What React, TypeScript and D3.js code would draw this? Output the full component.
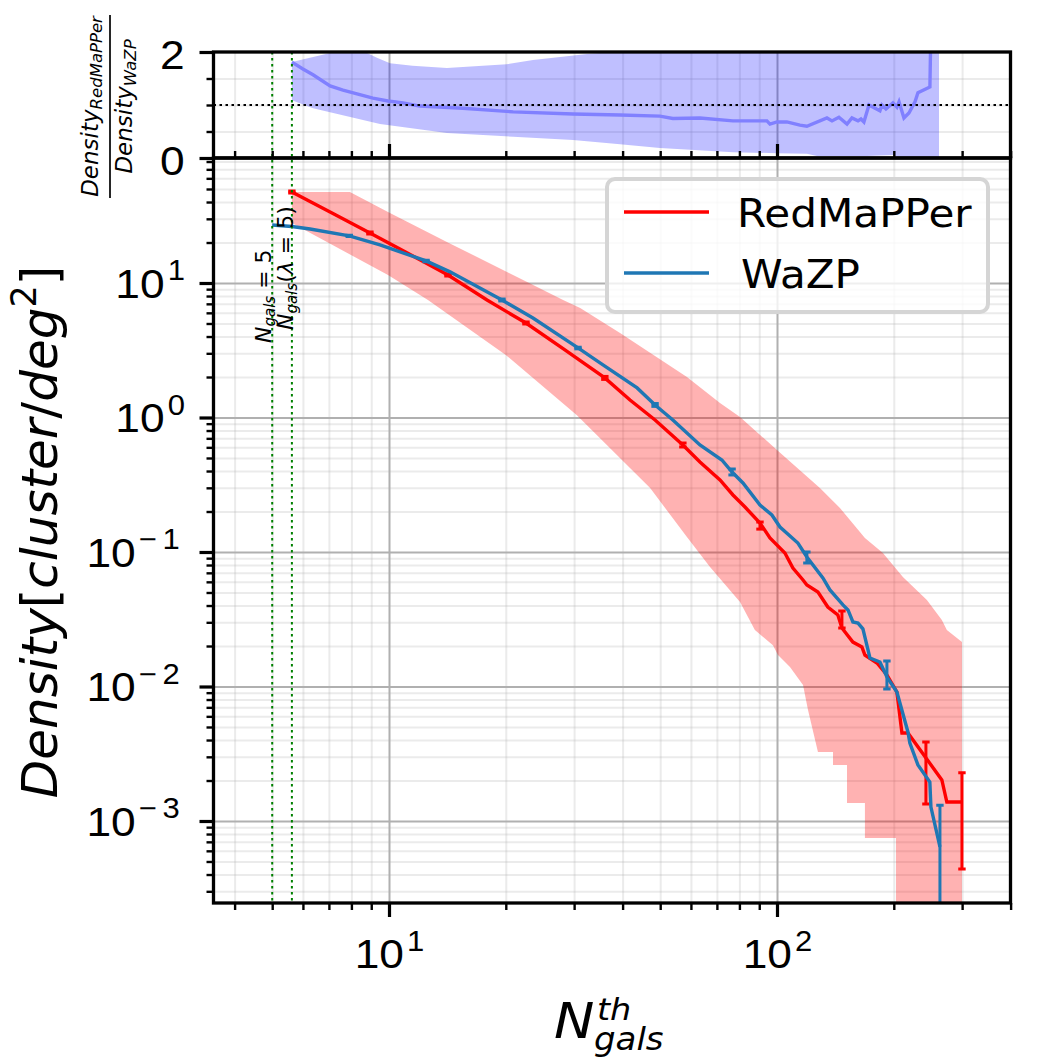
import * as d3 from "d3";
import { useRef, useEffect } from "react";

// values
const redX = [5.62, 7.05, 8.93, 10.67, 12.38, 14.19, 17.89, 22.54, 28.4, 36.0, 41.8, 48.5, 57.2, 63.3, 71.3, 77.0, 82.7, 90.4, 95.9, 104.8, 109.9, 116.7, 119.4, 127.5, 135.2, 143.5, 147, 156.9, 165.5, 168.5, 181, 192, 203.7, 209.9, 217.5, 266, 274, 299.7];
const redY = [47.5, 33.7, 23.5, 17.9, 14.2, 11.47, 7.47, 5.04, 3.18, 1.97, 1.35, 0.958, 0.625, 0.467, 0.343, 0.2654, 0.216, 0.1643, 0.127, 0.0984, 0.076, 0.0619, 0.0568, 0.0504, 0.039, 0.034, 0.0272, 0.0214, 0.0197, 0.01714, 0.01496, 0.01218, 0.0091, 0.00451, 0.00451, 0.00202, 0.001384, 0.001384];
const wazpX = [5.0, 5.62, 6.26, 7.9, 9.48, 12.46, 14.36, 19.55, 23.5, 30.7, 35.6, 43.6, 48.5, 53.9, 63.3, 72.1, 76.6, 81.7, 90.4, 97.0, 101.8, 113.2, 119.4, 131.3, 136.9, 147.9, 152.4, 156.9, 161.7, 166.5, 173.6, 184.2, 192, 203.7, 217.5, 220, 230.8, 247.7, 249.3, 263];
const wazpY = [27.0, 26.3, 25.2, 22.4, 19.2, 14.6, 12.1, 7.47, 5.49, 3.29, 2.46, 1.66, 1.24, 0.958, 0.625, 0.483, 0.393, 0.326, 0.2236, 0.1884, 0.1534, 0.1166, 0.0918, 0.0641, 0.0522, 0.0404, 0.0371, 0.0302, 0.0296, 0.0268, 0.0163, 0.0152, 0.01178, 0.0091, 0.00459, 0.0038, 0.00261, 0.00195, 0.00127, 0.000641];

const redErrX = [5.62, 8.93, 14.19, 22.54, 36.0, 57.2, 90.4, 147, 242, 299.7];
const redErrLo = [46.7, 23.1, 11.27, 4.96, 1.92, 0.604, 0.148, 0.0272, 0.00134, 0.00044];
const redErrHi = [48.3, 23.9, 11.66, 5.13, 2.02, 0.646, 0.167, 0.0364, 0.00387, 0.00228];
const wazpErrX = [7.9, 12.46, 19.55, 30.7, 48.5, 76.6, 119.4, 192, 263];
const wazpErrLo = [22.2, 14.39, 7.35, 3.24, 1.21, 0.374, 0.0829, 0.00958, 0.0001];
const wazpErrHi = [22.6, 14.76, 7.6, 3.33, 1.27, 0.414, 0.1, 0.0155, 0.00131];

const bandUpX = [5.62, 7.93, 9.94, 14.1, 22.7, 28.1, 31.1, 39.4, 58.6, 71.3, 80.3, 100, 129, 145.3, 168.5, 187.5, 211.1, 243.4, 266, 274, 299.7];
const bandUpY = [47.5, 47.5, 33.7, 20.2, 10.17, 7.47, 6.52, 4.25, 2.0, 1.28, 1.01, 0.573, 0.299, 0.2124, 0.127, 0.0984, 0.0652, 0.044, 0.0312, 0.0263, 0.0214];
const bandLoX = [5.62, 9.94, 12.6, 20.0, 30.5, 47.1, 58.6, 67.2, 80.3, 87.7, 97.6, 100.6, 108, 116.7, 120.2, 127.5, 139.4, 139.4, 151.5, 151.5, 168.5, 168.5, 202.6, 202.6, 299.7];
const bandLoY = [27.9, 11.47, 7.47, 2.92, 1.04, 0.299, 0.1293, 0.0774, 0.0425, 0.0263, 0.0203, 0.01714, 0.01396, 0.01026, 0.00669, 0.00326, 0.00326, 0.00261, 0.00261, 0.00136, 0.00136, 0.000748, 0.000748, 0.0001, 0.0001];

const ratioX = [5.62, 6.0, 6.37, 7.05, 7.61, 8.27, 9.09, 9.94, 10.87, 12.0, 15.5, 20.9, 29.8, 39.4, 49.9, 53.9, 63.3, 77.0, 94.2, 95.9, 100, 106, 114.6, 119.4, 134.5, 138.6, 144.4, 151.5, 156, 161.7, 164.6, 167.5, 172.6, 184.2, 186.4, 190.9, 199, 203.7, 206.3, 212.4, 218.8, 226.8, 230.8, 247.8, 249.3];
const ratioY = [1.81, 1.68, 1.57, 1.36, 1.28, 1.21, 1.13, 1.075, 1.04, 0.98, 0.94, 0.87, 0.83, 0.81, 0.79, 0.745, 0.755, 0.7, 0.7, 0.64, 0.68, 0.68, 0.62, 0.6, 0.755, 0.7, 0.77, 0.64, 0.755, 0.7, 0.736, 0.68, 1.0, 0.89, 1.0, 0.925, 1.04, 0.96, 1.06, 0.755, 0.85, 1.06, 1.23, 1.34, 2.5];
const ratioUpX = [5.62, 7.05, 8, 8.78, 9.31, 10.06, 11.5, 14.1, 20.1, 23.5, 32.4, 37.8, 63.3, 261.5];
const ratioUpY = [1.81, 1.98, 2.1, 1.98, 1.89, 1.79, 1.74, 1.7, 1.77, 1.85, 1.96, 2.0, 2.5, 2.5];
const ratioLoX = [5.62, 6.37, 9.48, 14.1, 20.9, 29.8, 39.4, 49.9, 77, 100, 119.4, 126.8, 170.6, 199, 206.3, 261.5];
const ratioLoY = [1.09, 0.94, 0.64, 0.47, 0.4, 0.34, 0.26, 0.19, 0.11, 0.09, 0.08, 0.04, 0.04, 0.055, 0, 0];

const xMajor = [10, 100];
const xMinor = [4, 5, 6, 7, 8, 9, 20, 30, 40, 50, 60, 70, 80, 90, 200, 300, 400];
const yMajor = [10, 1, 0.1, 0.01, 0.001];
const yMinor = [10, 1, 0.1, 0.01, 0.001, 0.0001].flatMap((d) => [2, 3, 4, 5, 6, 7, 8, 9].map((m) => m * d)).filter((d) => d < 85 && d > 0.00025);
const ratioMajor = [0, 2];
const ratioMinor = [0.5, 1, 1.5];
const vLines = [5, 5.62];

const left = 213.5, right = 1010.5, top0 = 52, mid = 158, bottom = 903;
const FONT = "DejaVu Sans";
const wide = 1.08; // the reference's text is a bit stretched sideways

const x = d3.scaleLog([10, 100], [389, 777]);
const y = d3.scaleLog([10, 1], [283, 417.5]);
const yr = d3.scaleLinear([0, 2], [mid, top0]);

const pts = (xs: number[], ys: number[]) => xs.map((d, i) => [d, ys[i]] as [number, number]);

function supLabels(sel: any, size: number) {
  sel.selectAll(".tick text").text(null).each(function (this: any, d: any) {
    const t = d3.select(this).attr("font-size", size);
    t.append("tspan").text("10");
    const e = Math.round(Math.log10(d));
    t.append("tspan")
      .attr("font-size", size * 0.7)
      .attr("dy", -size * 0.42)
      .attr("dx", 3)
      .attr("letter-spacing", e < 0 ? 5 : 0)
      .text(String(e).replace("-", "\u2212"));
  });
}

function ErrBars({ xs, lo, hi, color }: { xs: number[]; lo: number[]; hi: number[]; color: string }) {
  return (
    <g stroke={color} strokeWidth={3} fill="none">
      {xs.map((d, i) => (
        <g key={i}>
          <line x1={x(d)} x2={x(d)} y1={y(lo[i])} y2={y(hi[i])} />
          <line x1={x(d) - 3.7} x2={x(d) + 3.7} y1={y(lo[i])} y2={y(lo[i])} />
          <line x1={x(d) - 3.7} x2={x(d) + 3.7} y1={y(hi[i])} y2={y(hi[i])} />
        </g>
      ))}
    </g>
  );
}

export default function App() {
  const grid = useRef<SVGGElement>(null);
  const axes = useRef<SVGGElement>(null);

  useEffect(() => {
    const g = d3.select(grid.current);
    g.selectAll("*").remove();
    const gridLight = { color: "#b0b0b0", op: 0.25, w: 2 };
    const gridDark = { color: "#b0b0b0", op: 1, w: 2 };
    const addGrid = (axis: any, tx: number, ty: number, st: any) => {
      const a = g.append("g").attr("transform", `translate(${tx},${ty})`).call(axis);
      a.select(".domain").remove();
      a.selectAll("line").attr("stroke", st.color).attr("stroke-opacity", st.op).attr("stroke-width", st.w);
      a.selectAll("text").remove();
    };
    // x grid in both panels
    addGrid(d3.axisBottom(x).tickValues(xMinor).tickSize(-(bottom - top0)).tickFormat(() => ""), 0, bottom, gridLight);
    addGrid(d3.axisBottom(x).tickValues(xMajor).tickSize(-(bottom - mid)).tickFormat(() => ""), 0, bottom, gridDark);
    addGrid(d3.axisBottom(x).tickValues(xMajor).tickSize(-(mid - top0)).tickFormat(() => ""), 0, mid, gridDark);
    addGrid(d3.axisLeft(y).tickValues(yMinor).tickSize(-(right - left)).tickFormat(() => ""), left, 0, gridLight);
    addGrid(d3.axisLeft(y).tickValues(yMajor).tickSize(-(right - left)).tickFormat(() => ""), left, 0, gridDark);
    addGrid(d3.axisLeft(yr).tickValues(ratioMinor).tickSize(-(right - left)).tickFormat(() => ""), left, 0, gridLight);

    const ax = d3.select(axes.current);
    ax.selectAll("*").remove();
    const addAxis = (axis: any, tx: number, ty: number, w: number) => {
      const a = ax.append("g").attr("transform", `translate(${tx},${ty})`).attr("font-family", FONT).call(axis);
      a.select(".domain").remove();
      a.selectAll("line").attr("stroke", "#000").attr("stroke-width", w);
      a.selectAll("text").attr("fill", "#000");
      return a;
    };
    addAxis(d3.axisBottom(x).tickValues(xMinor).tickSize(7).tickFormat(() => ""), 0, bottom, 2.4);
    const xa = addAxis(d3.axisBottom(x).tickValues(xMajor).tickSize(14), 0, bottom, 3.2);
    supLabels(xa, 41);
    xa.selectAll(".tick text").attr("y", 65).attr("dy", 0).attr("text-anchor", "middle").attr("transform", `scale(${wide},1)`);
    addAxis(d3.axisTop(x).tickValues(xMinor).tickSize(7).tickFormat(() => ""), 0, mid, 2.4);
    addAxis(d3.axisTop(x).tickValues(xMajor).tickSize(14).tickFormat(() => ""), 0, mid, 3.2);

    addAxis(d3.axisLeft(y).tickValues(yMinor).tickSize(7).tickFormat(() => ""), left, 0, 2.4);
    const ya = addAxis(d3.axisLeft(y).tickValues(yMajor).tickSize(14), left, 0, 3.2);
    supLabels(ya, 41);
    ya.selectAll(".tick text").attr("x", -28.5 / wide).attr("dy", 14).attr("text-anchor", "end").attr("transform", `scale(${wide},1)`);

    addAxis(d3.axisLeft(yr).tickValues(ratioMinor).tickSize(7).tickFormat(() => ""), left, 0, 2.4);
    const ra = addAxis(d3.axisLeft(yr).tickValues(ratioMajor).tickSize(14).tickFormat(d3.format("d")), left, 0, 3.2);
    ra.selectAll(".tick text").attr("font-size", 41).attr("x", -29 / wide).attr("dy", 16).attr("text-anchor", "end").attr("transform", `scale(${wide},1)`);
  }, []);

  const line = d3.line<[number, number]>((d) => x(d[0]), (d) => y(d[1]));
  const rline = d3.line<[number, number]>((d) => x(d[0]), (d) => yr(d[1]));
  const band = line([...pts(bandUpX, bandUpY), ...pts(bandLoX, bandLoY).reverse()]) + "Z";
  const rband = rline([...pts(ratioUpX, ratioUpY), ...pts(ratioLoX, ratioLoY).reverse()]) + "Z";

  return (
    <svg width={1062} height={1062} style={{ position: "absolute", left: 0, top: 0 }} fontFamily={FONT}>
      <defs>
        <clipPath id="main"><rect x={left} y={mid} width={right - left} height={bottom - mid} /></clipPath>
        <clipPath id="ratio"><rect x={left} y={top0} width={right - left} height={mid - top0} /></clipPath>
      </defs>
      <g ref={grid} />

      <g clipPath="url(#ratio)">
        <path d={rband} fill="#0000ff" fillOpacity={0.25} />
        <path d={rline(pts(ratioX, ratioY))!} fill="none" stroke="#8080ff" strokeWidth={3.4} />
        <line x1={left} x2={right} y1={yr(1)} y2={yr(1)} stroke="#000" strokeWidth={2} strokeDasharray="2.5 3.5" />
      </g>
      <g clipPath="url(#main)">
        <path d={band} fill="#ff0000" fillOpacity={0.3} />
        <path d={line(pts(redX, redY))!} fill="none" stroke="#ff0000" strokeWidth={3.4} />
        <ErrBars xs={redErrX} lo={redErrLo} hi={redErrHi} color="#ff0000" />
        <path d={line(pts(wazpX, wazpY))!} fill="none" stroke="#1f77b4" strokeWidth={3.4} />
        <ErrBars xs={wazpErrX} lo={wazpErrLo} hi={wazpErrHi} color="#1f77b4" />
      </g>
      {vLines.map((v) => (
        <line key={v} x1={x(v)} x2={x(v)} y1={top0} y2={bottom} stroke="#008000" strokeWidth={2} strokeDasharray="2.5 3.5" />
      ))}

      <text transform="translate(271,343) rotate(-90)" fontSize={22} fill="#000">
        <tspan fontStyle="italic">N</tspan>
        <tspan fontStyle="italic" fontSize={15} dy={4}>gals</tspan>
        <tspan dy={-4}> = 5</tspan>
      </text>
      <text transform="translate(293,330) rotate(-90)" fontSize={22} fill="#000">
        <tspan fontStyle="italic">N</tspan>
        <tspan fontStyle="italic" fontSize={15} dy={4}>gals</tspan>
        <tspan dy={-4}>(</tspan>
        <tspan fontStyle="italic">λ</tspan>
        <tspan> = 5)</tspan>
      </text>

      {/* legend */}
      <rect x={607} y={179} width={381} height={133} rx={8} fill="#fff" fillOpacity={0.8} stroke="#d5d5d5" strokeWidth={4} />
      <line x1={624} x2={709} y1={212} y2={212} stroke="#ff0000" strokeWidth={3.4} />
      <line x1={624} x2={709} y1={273} y2={273} stroke="#1f77b4" strokeWidth={3.4} />
      <text transform={`translate(737,227) scale(${wide},1)`} fontSize={39}>RedMaPPer</text>
      <text transform={`translate(741,288) scale(${wide},1)`} fontSize={39}>WaZP</text>

      {/* spines */}
      <g fill="none" stroke="#000" strokeWidth={3.3}>
        <rect x={left} y={top0} width={right - left} height={mid - top0} />
        <rect x={left} y={mid} width={right - left} height={bottom - mid} />
      </g>
      <g ref={axes} />

      {/* axis labels */}
      <text transform="translate(57,532) rotate(-90)" textAnchor="middle" fontSize={50}>
        <tspan fontStyle="italic">Density</tspan>
        <tspan>[</tspan>
        <tspan fontStyle="italic">cluster</tspan>
        <tspan>/</tspan>
        <tspan fontStyle="italic">deg</tspan>
        <tspan fontSize={35} dy={-21}>2</tspan>
        <tspan dy={21}>]</tspan>
      </text>
      <text transform={`translate(554,1038) scale(${wide},1)`} fontSize={50} fontStyle="italic">N</text>
      <text transform={`translate(597,1020) scale(${wide},1)`} fontSize={31} fontStyle="italic">th</text>
      <text transform={`translate(594,1050) scale(${wide},1)`} fontSize={31.5} fontStyle="italic">gals</text>

      <g transform="translate(110,106.5) rotate(-90)" fontStyle="italic" textAnchor="middle" fontSize={23}>
        <text y={-12}>Density<tspan fontSize={16.5} dy={4}>RedMaPPer</tspan></text>
        <text y={22}>Density<tspan fontSize={16.5} dy={4}>WaZP</tspan></text>
        <line x1={-91.5} x2={91.5} y1={0} y2={0} stroke="#000" strokeWidth={1.7} />
      </g>
    </svg>
  );
}
